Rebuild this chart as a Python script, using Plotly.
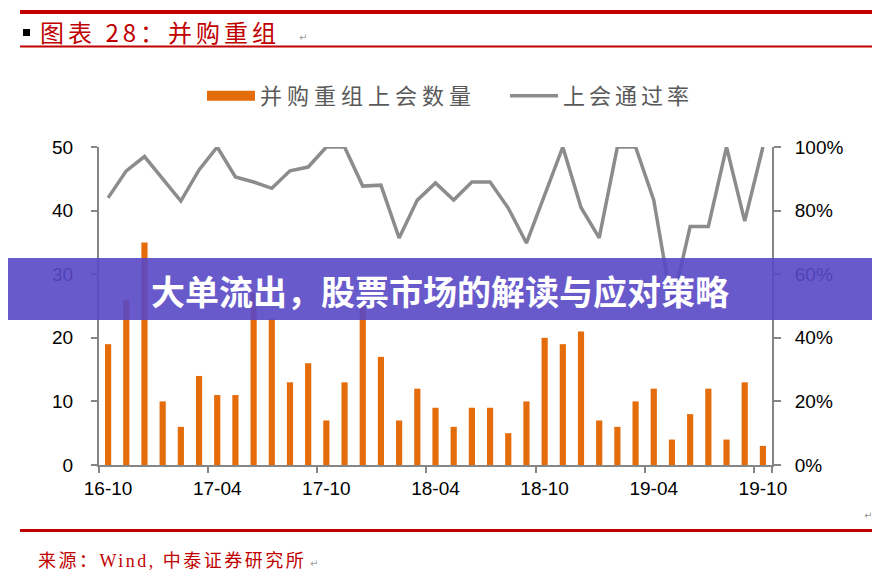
import plotly.graph_objects as go

# ---------------- data ----------------
months = ["16-10", "16-11", "16-12", "17-01", "17-02", "17-03", "17-04", "17-05", "17-06",
          "17-07", "17-08", "17-09", "17-10", "17-11", "17-12", "18-01", "18-02", "18-03",
          "18-04", "18-05", "18-06", "18-07", "18-08", "18-09", "18-10", "18-11", "18-12",
          "19-01", "19-02", "19-03", "19-04", "19-05", "19-06", "19-07", "19-08", "19-09",
          "19-10"]
tick_labels = ["16-10", "17-04", "17-10", "18-04", "18-10", "19-04", "19-10"]

counts = [19, 26, 35, 10, 6, 14, 11, 11, 27, 23, 13, 16, 7, 13, 25, 17, 7, 12, 9,
          6, 9, 9, 5, 10, 20, 19, 21, 7, 6, 10, 12, 4, 8, 12, 4, 13, 3]
pass_rate = [0.84, 0.925, 0.97, 0.90, 0.83, 0.928, 1.00, 0.906, 0.89, 0.87, 0.925,
             0.937, 1.00, 1.00, 0.877, 0.88, 0.714, 0.833, 0.887, 0.833, 0.89, 0.89,
             0.808, 0.698, 0.85, 1.00, 0.81, 0.714, 1.00, 1.00, 0.833, 0.50, 0.75,
             0.75, 1.00, 0.767, 1.00]

name_count = "并购重组上会数量"
name_rate = "上会通过率"
title_text = "图表 28：并购重组"
source_text = "来源：Wind, 中泰证券研究所"
banner_text = "大单流出，股票市场的解读与应对策略"

# ---------------- geometry helpers (layout decoration only) ----------------
# the page body has an 8px margin, so the figure is drawn 8px smaller and
# all decoration positions are given in window pixels minus that offset
OFF = 8
W_PX, H_PX = 880 - OFF, 578 - OFF
L, T = 91, 139
PW, PH = 673, 318
R = W_PX - L - PW
B = H_PX - T - PH


def px(x):
    return (x - OFF - L) / PW


def py(y):
    return (H_PX - B - (y - OFF)) / PH


ORANGE = "#E46C0A"
GRAY_LINE = "#8C8C8C"
AXIS_GRAY = "#868686"
RED = "#C00000"

fig = go.Figure()
fig.add_trace(go.Bar(
    x=months, y=counts, name=name_count, marker=dict(color=ORANGE, line=dict(width=0)),
    width=0.34, showlegend=False, legendgroup="cnt",
))
# legend proxy for the bar series (wide rectangle look)
fig.add_trace(go.Scatter(
    x=[None], y=[None], mode="lines", line=dict(color=ORANGE, width=13),
    name='<span style="letter-spacing:5px">' + name_count + '</span>', legendgroup="cnt",
))
fig.add_trace(go.Scatter(
    x=months, y=pass_rate, yaxis="y2", mode="lines",
    line=dict(color=GRAY_LINE, width=3.5),
    name='<span style="letter-spacing:4px">' + name_rate + '</span>',
))

tickfont = dict(family="Liberation Sans, Arial", size=19, color="#000000")

fig.update_layout(
    width=W_PX, height=H_PX,
    margin=dict(l=L, r=R, t=T, b=B, pad=0, autoexpand=False),
    paper_bgcolor="white", plot_bgcolor="white",
    showlegend=True,
    legend=dict(
        orientation="h", x=px(202), xanchor="left", y=py(96), yanchor="middle",
        font=dict(family="Noto Sans CJK SC", size=22, color="#595959"),
        bgcolor="rgba(0,0,0,0)", itemwidth=48, entrywidth=240, entrywidthmode="pixels",
        traceorder="normal",
    ),
    xaxis=dict(
        type="category", categoryorder="array", categoryarray=months,
        tickmode="array", tickvals=tick_labels, ticktext=tick_labels, tickangle=0,
        tickson="boundaries", ticks="outside", ticklen=6, tickwidth=2, tickcolor=AXIS_GRAY,
        showline=True, linecolor=AXIS_GRAY, linewidth=2, showgrid=False, automargin=False,
        tickfont=tickfont, ticklabelstandoff=5, range=[-0.5, 36.5],
    ),
    yaxis=dict(
        range=[0, 50], dtick=10, tick0=0, ticks="outside", ticklen=6, tickwidth=2,
        tickcolor=AXIS_GRAY, showline=True, linecolor=AXIS_GRAY, linewidth=2,
        showgrid=False, zeroline=False, tickfont=tickfont, ticklabelstandoff=14,
        automargin=False,
    ),
    yaxis2=dict(
        overlaying="y", side="right", range=[0, 1], dtick=0.2, tick0=0,
        tickformat=".0%", ticks="outside", ticklen=7, tickwidth=2, tickcolor=AXIS_GRAY,
        showline=True, linecolor=AXIS_GRAY, linewidth=2, showgrid=False, zeroline=False,
        tickfont=tickfont, ticklabelstandoff=10, automargin=False,
    ),
    bargap=0.66,
)

shapes = [
    # header rules
    dict(type="line", xref="paper", yref="paper", x0=px(20), x1=px(890), y0=py(12), y1=py(12),
         line=dict(color=RED, width=4)),
    dict(type="line", xref="paper", yref="paper", x0=px(20), x1=px(890), y0=py(46.5), y1=py(46.5),
         line=dict(color=RED, width=2)),
    # footer rule
    dict(type="line", xref="paper", yref="paper", x0=px(20), x1=px(890), y0=py(530.5), y1=py(530.5),
         line=dict(color=RED, width=3)),
    # bullet square
    dict(type="rect", xref="paper", yref="paper", x0=px(23), x1=px(30), y0=py(36), y1=py(29),
         fillcolor="black", line=dict(width=0)),
    # overlay banner
    dict(type="rect", xref="paper", yref="paper", x0=px(0), x1=px(890), y0=py(320), y1=py(258),
         fillcolor="rgba(89,72,199,0.9)", line=dict(width=0), layer="above"),
]
fig.update_layout(shapes=shapes)

annotations = [
    dict(text='<span style="letter-spacing:4px">' + title_text + '</span>',
         xref="paper", yref="paper", x=px(38), y=py(31), xanchor="left", yanchor="middle",
         showarrow=False, font=dict(family="Noto Sans CJK SC", size=24, color=RED)),
    dict(text="↵", xref="paper", yref="paper", x=px(303), y=py(37), xanchor="center",
         yanchor="middle", showarrow=False, font=dict(family="DejaVu Sans", size=10, color="#9A9A9A")),
    dict(text="↵", xref="paper", yref="paper", x=px(868), y=py(515), xanchor="center",
         yanchor="middle", showarrow=False, font=dict(family="DejaVu Sans", size=10, color="#9A9A9A")),
    dict(text='<span style="letter-spacing:2.5px">' + source_text + '</span>',
         xref="paper", yref="paper", x=px(36), y=py(561), xanchor="left", yanchor="middle",
         showarrow=False, font=dict(family="Liberation Serif, Noto Sans CJK SC", size=18, color=RED)),
    dict(text="↵", xref="paper", yref="paper", x=px(314), y=py(563), xanchor="center",
         yanchor="middle", showarrow=False, font=dict(family="DejaVu Sans", size=10, color="#9A9A9A")),
    dict(text="<b>" + banner_text + "</b>", xref="paper", yref="paper", x=px(440), y=py(290),
         xanchor="center", yanchor="middle", showarrow=False,
         font=dict(family="Noto Sans CJK SC", size=34, color="white")),
]
fig.update_layout(annotations=annotations)

fig.write_html("out.html")
